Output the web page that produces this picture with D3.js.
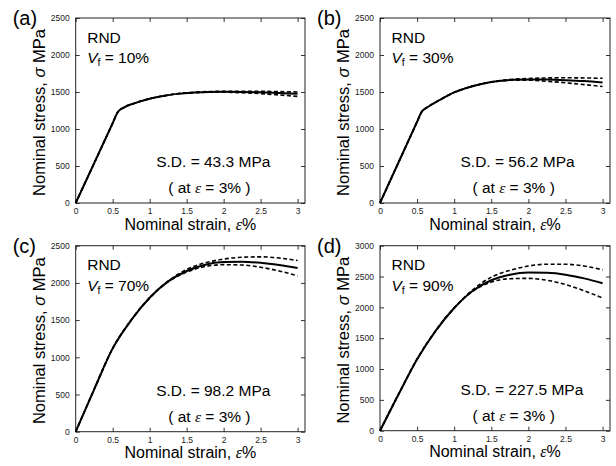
<!DOCTYPE html>
<html>
<head>
<meta charset="utf-8">
<script src="https://cdn.jsdelivr.net/npm/d3@7"></script>
<style>
  body { margin: 0; background: #fff; }
  text { font-family: "Liberation Sans", Arial, sans-serif; fill: #000; }
  .tick text { font-size: 8.5px; fill: #222; }
  .eps { font-family: "Liberation Serif", "DejaVu Serif", serif; font-style: italic; }
</style>
</head>
<body>
<div id="chart"></div>
<script>
// strain (%) and nominal stress (MPa)
var strainTicks = [0, 0.5, 1, 1.5, 2, 2.5, 3];
var stressTicks2500 = [0, 500, 1000, 1500, 2000, 2500];
var stressTicks3000 = [0, 500, 1000, 1500, 2000, 2500, 3000];

var strainA = [0, 0.3, 0.5, 0.57, 0.65, 0.8, 1.0, 1.2, 1.4, 1.6, 1.8, 2.0, 2.25, 2.5, 2.75, 3.0];
var meanA   = [0, 647, 1079, 1230, 1290, 1350, 1410, 1450, 1478, 1492, 1500, 1502, 1500, 1495, 1485, 1475];
var upperA  = [0, 647, 1079, 1230, 1290, 1350, 1410, 1450, 1480, 1497, 1506, 1509, 1511, 1510, 1505, 1500];
var lowerA  = [0, 647, 1079, 1230, 1290, 1350, 1410, 1450, 1478, 1490, 1497, 1497, 1490, 1478, 1460, 1440];

var strainB = [0, 0.3, 0.5, 0.56, 0.65, 0.8, 1.0, 1.2, 1.4, 1.6, 1.8, 2.0, 2.25, 2.5, 2.75, 3.0];
var meanB   = [0, 659, 1098, 1230, 1300, 1390, 1495, 1565, 1615, 1648, 1665, 1670, 1668, 1660, 1648, 1630];
var upperB  = [0, 659, 1098, 1230, 1300, 1390, 1495, 1565, 1617, 1653, 1673, 1683, 1690, 1692, 1690, 1685];
var lowerB  = [0, 659, 1098, 1230, 1300, 1390, 1495, 1565, 1615, 1646, 1660, 1660, 1645, 1625, 1600, 1575];

var strainC = [0, 0.25, 0.5, 0.75, 1.0, 1.25, 1.5, 1.75, 2.0, 2.25, 2.5, 2.75, 3.0];
var meanC   = [0, 570, 1120, 1500, 1800, 2020, 2160, 2245, 2280, 2285, 2270, 2240, 2200];
var upperC  = [0, 570, 1120, 1500, 1800, 2025, 2180, 2270, 2320, 2345, 2350, 2335, 2300];
var lowerC  = [0, 570, 1120, 1500, 1800, 2015, 2145, 2220, 2245, 2240, 2210, 2160, 2095];

var strainD = [0, 0.25, 0.5, 0.75, 1.0, 1.25, 1.5, 1.75, 2.0, 2.25, 2.5, 2.75, 3.0];
var meanD   = [0, 590, 1160, 1620, 1990, 2270, 2440, 2530, 2565, 2560, 2530, 2470, 2390];
var upperD  = [0, 590, 1160, 1620, 1990, 2285, 2490, 2600, 2670, 2700, 2700, 2670, 2610];
var lowerD  = [0, 590, 1160, 1620, 1990, 2260, 2410, 2465, 2470, 2440, 2370, 2270, 2150];

var panelLabels = ["(a)", "(b)", "(c)", "(d)"];
var volumeFractions = ["10%", "30%", "70%", "90%"];
var sdValues = ["43.3", "56.2", "98.2", "227.5"];

var panels = [
  {left: 75.7, top: 18,    right: 305, bottom: 203,   ymax: 2500, yticks: stressTicks2500, strain: strainA, mean: meanA, upper: upperA, lower: lowerA},
  {left: 380,  top: 18,    right: 610, bottom: 203,   ymax: 2500, yticks: stressTicks2500, strain: strainB, mean: meanB, upper: upperB, lower: lowerB},
  {left: 75.7, top: 245.7, right: 305, bottom: 431.7, ymax: 2500, yticks: stressTicks2500, strain: strainC, mean: meanC, upper: upperC, lower: lowerC},
  {left: 380,  top: 245.7, right: 610, bottom: 430.7, ymax: 3000, yticks: stressTicks3000, strain: strainD, mean: meanD, upper: upperD, lower: lowerD}
];

var svg = d3.select("#chart").append("svg")
  .attr("width", 616)
  .attr("height", 466);

svg.append("rect").attr("width", 616).attr("height", 466).attr("fill", "#fff");

panels.forEach(function(p, i) {
  var x = d3.scaleLinear().domain([0, 3.1]).range([p.left, p.right]);
  var y = d3.scaleLinear().domain([0, p.ymax]).range([p.bottom, p.top]);
  var g = svg.append("g");

  // axes, ticks point inward on all four sides
  g.append("g")
    .attr("transform", "translate(0," + p.bottom + ")")
    .call(d3.axisBottom(x).tickValues(strainTicks).tickSizeInner(-4).tickSizeOuter(0).tickPadding(5).tickFormat(d3.format("")));
  g.append("g")
    .attr("transform", "translate(0," + p.top + ")")
    .call(d3.axisTop(x).tickValues(strainTicks).tickSizeInner(-4).tickSizeOuter(0).tickFormat(""));
  g.append("g")
    .attr("transform", "translate(" + p.left + ",0)")
    .call(d3.axisLeft(y).tickValues(p.yticks).tickSizeInner(-4).tickSizeOuter(0).tickPadding(6).tickFormat(d3.format("")));
  g.append("g")
    .attr("transform", "translate(" + p.right + ",0)")
    .call(d3.axisRight(y).tickValues(p.yticks).tickSizeInner(-4).tickSizeOuter(0).tickFormat(""));
  g.selectAll(".domain").remove();
  g.selectAll(".tick line").attr("stroke", "#333");

  g.append("rect")
    .attr("x", p.left).attr("y", p.top)
    .attr("width", p.right - p.left).attr("height", p.bottom - p.top)
    .attr("fill", "none").attr("stroke", "#222").attr("stroke-width", 1);

  var line = function(vals) {
    return d3.line()
      .x(function(d, k) { return x(p.strain[k]); })
      .y(function(d) { return y(d); })
      .curve(d3.curveMonotoneX)(vals);
  };

  g.append("path").attr("d", line(p.mean))
    .attr("fill", "none").attr("stroke", "#000").attr("stroke-width", 2);
  [p.upper, p.lower].forEach(function(vals) {
    g.append("path").attr("d", line(vals))
      .attr("fill", "none").attr("stroke", "#000").attr("stroke-width", 1.6)
      .attr("stroke-dasharray", "4,2.5");
  });

  // texts
  svg.append("text")
    .attr("x", p.left - 63).attr("y", p.top + 7)
    .attr("font-size", 20)
    .text(panelLabels[i]);

  svg.append("text")
    .attr("x", p.left + 11.5).attr("y", p.top + 24.5)
    .attr("font-size", 15.5)
    .text("RND");

  var vf = svg.append("text")
    .attr("x", p.left + 11.5).attr("y", p.top + 45)
    .attr("font-size", 15.5);
  vf.append("tspan").attr("font-style", "italic").text("V");
  vf.append("tspan").attr("font-size", 10.5).attr("dy", 3).text("f");
  vf.append("tspan").attr("dy", -3).text(" = " + volumeFractions[i]);

  svg.append("text")
    .attr("x", p.left + 80.5).attr("y", p.bottom - 36)
    .attr("font-size", 15.5)
    .text("S.D. = " + sdValues[i] + " MPa");

  var at = svg.append("text")
    .attr("x", p.left + 92.5).attr("y", p.bottom - 10)
    .attr("font-size", 15.5);
  at.append("tspan").text("( at ");
  at.append("tspan").attr("class", "eps").text("ε");
  at.append("tspan").text(" = 3% )");

  var xl = svg.append("text")
    .attr("x", (p.left + p.right) / 2).attr("y", p.bottom + 26.5)
    .attr("text-anchor", "middle")
    .attr("font-size", 16);
  xl.append("tspan").text("Nominal strain, ");
  xl.append("tspan").attr("class", "eps").text("ε");
  xl.append("tspan").text("%");

  var yl = svg.append("text")
    .attr("transform", "translate(" + (p.left - 31) + "," + ((p.top + p.bottom) / 2 + 2) + ") rotate(-90)")
    .attr("text-anchor", "middle")
    .attr("font-size", 16.5);
  yl.append("tspan").text("Nominal stress, ");
  yl.append("tspan").attr("font-style", "italic").text("σ");
  yl.append("tspan").text(" MPa");
});
</script>
</body>
</html>
